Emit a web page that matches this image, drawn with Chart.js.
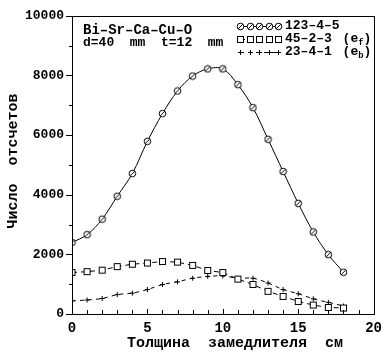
<!DOCTYPE html>
<html>
<head>
<meta charset="utf-8">
<script src="https://cdn.jsdelivr.net/npm/chart.js@4.4.0/dist/chart.umd.min.js"></script>
<style>
  html, body { margin: 0; padding: 0; background: #fff; }
  #wrap { width: 388px; height: 354px; }
</style>
</head>
<body>
<div id="wrap"><canvas id="counts"></canvas></div>
<script>
// thickness of moderator, cm
const thickness = [0, 1, 2, 3, 4, 5, 6, 7, 8, 9, 10, 11, 12, 13, 14, 15, 16, 17, 18];

// counts for the three samples
const series123 = [2400, 2660, 3180, 3950, 4710, 5790, 6720, 7480, 7980, 8220, 8220, 7690, 6920, 5860, 4780, 3710, 2750, 1990, 1400];
const series45 = [1390, 1420, 1470, 1590, 1670, 1710, 1760, 1740, 1630, 1460, 1390, 1170, 990, 760, 590, 420, 300, 220, 200];
const series23 = [440, 470, 520, 650, 700, 820, 990, 1080, 1200, 1260, 1280, 1200, 1200, 1040, 820, 680, 510, 390, 270];

const seriesNames = ['123\u20134\u20135', '45\u20132\u20133', '23\u20134\u20131'];
const seriesSubs = ['', 'f', 'b'];

const xTicks = [0, 5, 10, 15, 20];
const yTicks = [0, 2000, 4000, 6000, 8000, 10000];

const FONT = '"Liberation Mono", "DejaVu Sans Mono", monospace';

function pts(ys) {
    return thickness.map((x, i) => ({ x: x, y: ys[i] }));
}

// small marker images
function makeMarker(kind) {
    const c = document.createElement('canvas');
    c.width = 9;
    c.height = 9;
    const g = c.getContext('2d');
    g.strokeStyle = '#000';
    g.fillStyle = '#fff';
    g.lineWidth = 1;
    if (kind === 'circle') {
        g.beginPath();
        g.arc(4.5, 4.5, 3.3, 0, Math.PI * 2);
        g.fill();
        g.stroke();
        g.beginPath();
        g.moveTo(2.2, 6.8);
        g.lineTo(6.8, 2.2);
        g.stroke();
    } else if (kind === 'square') {
        g.fillRect(1.5, 1.5, 6, 6);
        g.strokeRect(1.5, 1.5, 6, 6);
    } else {
        g.beginPath();
        g.moveTo(4.5, 2);
        g.lineTo(4.5, 7);
        g.moveTo(2, 4.5);
        g.lineTo(7, 4.5);
        g.stroke();
    }
    return c;
}
const markers = [makeMarker('circle'), makeMarker('square'), makeMarker('plus')];

// frame, ticks, legend and labels drawn on top
const decorations = {
    id: 'decorations',
    afterDraw(chart) {
        const ctx = chart.ctx;
        const area = chart.chartArea;
        const xs = chart.scales.x;
        const ys = chart.scales.y;
        ctx.save();
        ctx.strokeStyle = '#000';
        ctx.lineWidth = 1;
        ctx.setLineDash([]);
        ctx.strokeRect(Math.round(area.left) + 0.5, Math.round(area.top) + 0.5,
            Math.round(area.right - area.left), Math.round(area.bottom - area.top));

        // x ticks: inward, every 1 cm
        for (let v = 0; v <= 20; v++) {
            const px = Math.round(xs.getPixelForValue(v)) + 0.5;
            const len = v % 5 === 0 ? 5 : 4;
            ctx.beginPath();
            ctx.moveTo(px, area.bottom);
            ctx.lineTo(px, area.bottom - len);
            ctx.stroke();
        }
        // y ticks: outward, every 1000
        for (let v = 0; v <= 10000; v += 1000) {
            const py = Math.round(ys.getPixelForValue(v)) + 0.5;
            const len = v % 2000 === 0 ? 6 : 3;
            ctx.beginPath();
            ctx.moveTo(area.left - len, py);
            ctx.lineTo(area.left, py);
            ctx.stroke();
        }

        ctx.fillStyle = '#000';
        ctx.textBaseline = 'middle';

        // sample description
        ctx.font = 'bold 14px ' + FONT;
        ctx.textAlign = 'left';
        ctx.fillText('Bi\u2013Sr\u2013Ca\u2013Cu\u2013O', 83, 30);
        ctx.font = 'bold 13px ' + FONT;
        ctx.fillText('d=40  mm  t=12  mm', 83, 43);

        // legend
        const rows = [26, 39, 52];
        chart.data.datasets.forEach((ds, i) => {
            const y = rows[i];
            const x0 = 240, x1 = 278;
            ctx.save();
            ctx.lineWidth = 1;
            ctx.setLineDash(ds.borderDash || []);
            ctx.beginPath();
            ctx.moveTo(x0, y + 0.5);
            ctx.lineTo(x1, y + 0.5);
            ctx.stroke();
            ctx.setLineDash([]);
            for (let k = 0; k < 5; k++) {
                const mx = x0 + k * (x1 - x0) / 4;
                ctx.drawImage(markers[i], Math.round(mx) - 4, y - 4);
            }
            ctx.restore();
            ctx.font = 'bold 13px ' + FONT;
            ctx.fillText(seriesNames[i], 285, y);
            if (seriesSubs[i]) {
                const lead = 285 + ctx.measureText(seriesNames[i] + ' ').width + 3;
                ctx.fillText('(e', lead, y);
                const w = ctx.measureText('(e').width;
                ctx.font = 'bold 9px ' + FONT;
                ctx.fillText(seriesSubs[i], lead + w, y + 4);
                const sw = ctx.measureText(seriesSubs[i]).width;
                ctx.font = 'bold 13px ' + FONT;
                ctx.fillText(')', lead + w + sw, y);
            }
        });

        // axis titles
        ctx.font = 'bold 15px ' + FONT;
        ctx.textAlign = 'left';
        ctx.fillText('Толщина  замедлителя  см', 127, 343);
        ctx.save();
        ctx.translate(13, 161);
        ctx.rotate(-Math.PI / 2);
        ctx.textAlign = 'center';
        ctx.fillText('Число  отсчетов', 0, 0);
        ctx.restore();
        ctx.restore();
    }
};

new Chart(document.getElementById('counts'), {
    type: 'line',
    data: {
        datasets: [{
            label: seriesNames[0],
            data: pts(series123),
            borderColor: '#000',
            borderWidth: 1,
            tension: 0.35,
            pointStyle: markers[0],
            fill: false
        }, {
            label: seriesNames[1],
            data: pts(series45),
            borderColor: '#000',
            borderWidth: 1,
            borderDash: [5, 4],
            tension: 0,
            pointStyle: markers[1],
            fill: false
        }, {
            label: seriesNames[2],
            data: pts(series23),
            borderColor: '#000',
            borderWidth: 1,
            borderDash: [4, 4],
            tension: 0.3,
            pointStyle: markers[2],
            fill: false
        }]
    },
    options: {
        responsive: true,
        maintainAspectRatio: false,
        animation: false,
        devicePixelRatio: 1,
        layout: { padding: { top: 12, right: 14, left: 0, bottom: 0 } },
        plugins: {
            legend: { display: false },
            tooltip: { enabled: false }
        },
        scales: {
            x: {
                type: 'linear',
                min: 0,
                max: 20,
                afterBuildTicks: s => { s.ticks = xTicks.map(v => ({ value: v })); },
                afterFit: s => { s.height = 40; },
                grid: { display: false, drawTicks: false },
                border: { display: false },
                ticks: {
                    color: '#000',
                    padding: 6,
                    callback: v => String(v),
                    font: { family: FONT, size: 14, weight: 'bold' }
                }
            },
            y: {
                type: 'linear',
                min: 0,
                max: 10000,
                afterBuildTicks: s => { s.ticks = yTicks.map(v => ({ value: v })); },
                afterFit: s => { s.width = 72; },
                grid: { display: false, drawTicks: false },
                border: { display: false },
                ticks: {
                    color: '#000',
                    padding: 8,
                    callback: v => String(v),
                    font: { family: FONT, size: 13, weight: 'bold' }
                }
            }
        }
    },
    plugins: [decorations]
});
</script>
</body>
</html>
